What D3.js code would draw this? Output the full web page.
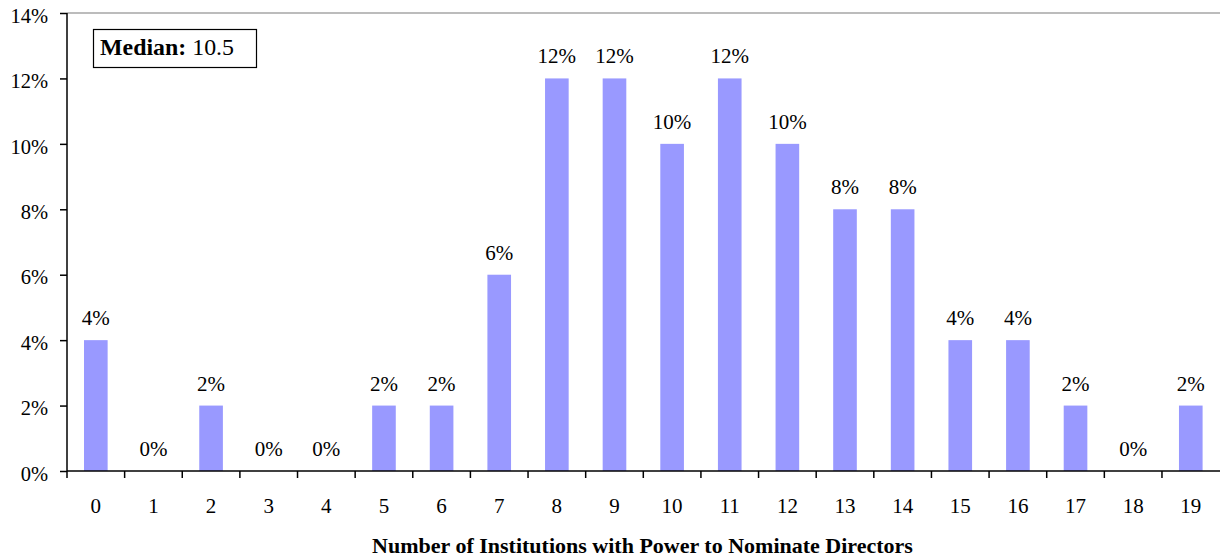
<!DOCTYPE html>
<html><head><meta charset="utf-8">
<script src="https://cdn.jsdelivr.net/npm/d3@7"></script>
<style>body{margin:0;background:#fff}svg{display:block}text{font-family:"Liberation Serif","Times New Roman",serif;fill:#000}</style>
</head><body>
<svg id="c" width="1220" height="558"></svg>
<script>
const categories = ["0","1","2","3","4","5","6","7","8","9","10","11","12","13","14","15","16","17","18","19"];
const values = [4,0,2,0,0,2,2,6,12,12,10,12,10,8,8,4,4,2,0,2];
const yTicks = [0,2,4,6,8,10,12,14];
const xTitle = "Number of Institutions with Power to Nominate Directors";
const medianLabel = "Median:";
const medianValue = "10.5";

const svg = d3.select("#c");
const m = {left:67, right:1219.6, top:13, bottom:471};
const x = d3.scaleBand().domain(categories).range([m.left, m.right]).paddingInner(0.59).paddingOuter(0.295);
const y = d3.scaleLinear().domain([0,14]).range([m.bottom, m.top]);

// top gridline
svg.append("line").attr("x1",m.left).attr("x2",1220).attr("y1",y(14)).attr("y2",y(14))
  .attr("stroke","#a6a6a6").attr("stroke-width",1.5);

// bars
svg.selectAll("rect.bar").data(values).enter().append("rect").attr("class","bar")
  .attr("x",(d,i)=>x(categories[i])).attr("width",x.bandwidth())
  .attr("y",d=>y(d)).attr("height",d=>y(0)-y(d)).attr("fill","#9999ff");

// data labels
svg.selectAll("text.lbl").data(values).enter().append("text").attr("class","lbl")
  .attr("x",(d,i)=>x(categories[i])+x.bandwidth()/2).attr("y",d=>y(d)-15)
  .attr("text-anchor","middle").attr("font-size",21).text(d=>d+"%");

// y axis
const ya = svg.append("g").attr("transform",`translate(${m.left},0)`)
  .call(d3.axisLeft(y).tickValues(yTicks).tickSize(7).tickPadding(12).tickFormat(d=>d+"%"));
ya.select(".domain").attr("stroke","#000").attr("stroke-width",1.5).attr("d",`M0,${m.top}V${m.bottom}`);
ya.selectAll(".tick line").attr("stroke","#000").attr("stroke-width",1.5);
ya.selectAll(".tick text").attr("font-size",20.5).attr("font-family","Liberation Serif").attr("fill","#000").attr("dy","0.45em");

// x axis with boundary ticks
const step = x.step();
const xBounds = d3.range(categories.length).map(i=>x(categories[i]) - x.paddingInner()*step/2 - (i===0 ? (x.paddingOuter()-x.paddingInner()/2)*step : 0));
const xa = svg.append("g");
xa.append("line").attr("x1",m.left).attr("x2",1220).attr("y1",m.bottom).attr("y2",m.bottom).attr("stroke","#000").attr("stroke-width",1.5);
xa.selectAll("line.t").data(xBounds).enter().append("line").attr("class","t")
  .attr("x1",d=>d).attr("x2",d=>d).attr("y1",m.bottom).attr("y2",m.bottom+7).attr("stroke","#000").attr("stroke-width",1.5);
xa.selectAll("text").data(categories).enter().append("text")
  .attr("x",d=>x(d)+x.bandwidth()/2).attr("y",513).attr("text-anchor","middle").attr("font-size",21).text(d=>d);

// axis title
svg.append("text").attr("x",642.5).attr("y",553).attr("text-anchor","middle")
  .attr("font-size",22).attr("font-weight","bold").text(xTitle);

// median box
svg.append("rect").attr("x",93.5).attr("y",29.5).attr("width",163).attr("height",38)
  .attr("fill","#fff").attr("stroke","#000").attr("stroke-width",1.2);
const mt = svg.append("text").attr("x",100).attr("y",55).attr("font-size",23)
  .attr("textLength",134).attr("lengthAdjust","spacingAndGlyphs");
mt.append("tspan").attr("font-weight","bold").text(medianLabel);
mt.append("tspan").text(" "+medianValue);
</script>
</body></html>
